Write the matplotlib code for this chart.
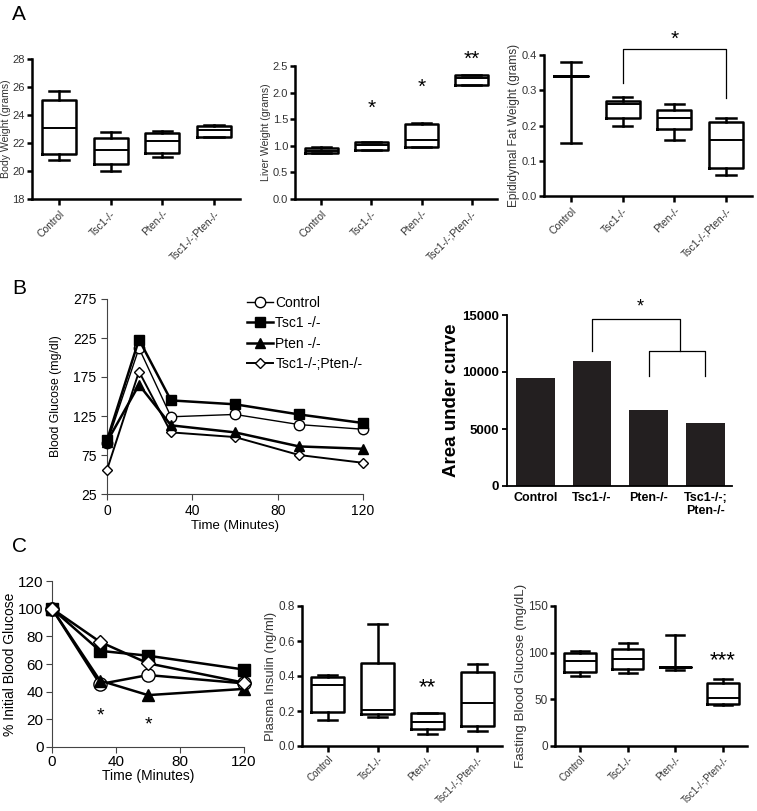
import matplotlib
matplotlib.use('Agg')
import matplotlib.pyplot as plt

plt.rcParams['font.family'] = ['Liberation Sans', 'DejaVu Sans']

groups = ['Control', 'Tsc1-/-', 'Pten-/-', 'Tsc1-/-;Pten-/-']

# box stats: (whislo, q1, med, q3, whishi)
body_weight = [(20.8, 21.25, 23.05, 25.1, 25.7),
               (20.0, 20.5, 21.5, 22.35, 22.8),
               (21.0, 21.3, 22.15, 22.75, 22.85),
               (22.4, 22.45, 22.9, 23.25, 23.3)]
liver_weight = [(0.86, 0.87, 0.90, 0.95, 0.97),
                (0.92, 0.93, 1.02, 1.08, 1.08),
                (0.97, 0.98, 1.10, 1.41, 1.42),
                (2.14, 2.15, 2.28, 2.34, 2.34)]
fat_weight = [(0.15, 0.34, 0.34, 0.34, 0.38),
              (0.20, 0.22, 0.26, 0.27, 0.28),
              (0.16, 0.19, 0.22, 0.245, 0.26),
              (0.06, 0.08, 0.16, 0.21, 0.22)]
insulin = [(0.15, 0.195, 0.347, 0.395, 0.405),
           (0.163, 0.182, 0.206, 0.472, 0.70),
           (0.07, 0.10, 0.14, 0.19, 0.19),
           (0.084, 0.112, 0.247, 0.425, 0.468)]
fasting = [(75, 79, 91, 100, 102),
           (78, 82, 93, 104, 110),
           (81, 85, 85, 85, 119),
           (44, 45, 51.5, 68, 72)]

# GTT (panel B)
gtt_time = [0, 15, 30, 60, 90, 120]
gtt_control = [90, 212, 124, 127, 114, 108]
gtt_tsc1 = [94, 223, 145, 140, 127, 116]
gtt_pten = [92, 165, 113, 104, 86, 83]
gtt_double = [56, 182, 104, 98, 75, 65]
auc = [9500, 11000, 6650, 5550]
auc_labels = ['Control', 'Tsc1-/-', 'Pten-/-', 'Tsc1-/-;\nPten-/-']

# ITT (panel C)
itt_time = [0, 30, 60, 120]
itt_control = [100, 45.5, 52, 46]
itt_tsc1 = [100, 69.5, 66, 56]
itt_pten = [100, 48, 37.5, 42]
itt_double = [100, 76, 60.5, 46.5]

W, H = 757, 811
fig = plt.figure(figsize=(W / 100, H / 100), dpi=100)


def add_ax(left, right, top, bottom):
    return fig.add_axes([left / W, 1 - bottom / H, (right - left) / W, (bottom - top) / H])


def prism_box(ax, data, ylim, yticks, ylabel, fmt=None, tick_fs=8, xlab_fs=7.5, ylab_fs=7.6, xpad=3):
    stats = [dict(whislo=d[0], q1=d[1], med=d[2], q3=d[3], whishi=d[4]) for d in data]
    pos = [1, 2, 3, 4]
    ax.bxp(stats, positions=pos, widths=0.66, capwidths=0.38, showfliers=False,
           boxprops=dict(lw=1.8), whiskerprops=dict(lw=1.8), capprops=dict(lw=1.8),
           medianprops=dict(color='black', lw=1.4))
    ax.set_xlim(0.48, 4.5)
    ax.set_ylim(*ylim)
    ax.set_yticks(yticks)
    if fmt:
        ax.set_yticklabels([fmt % v for v in yticks])
    ax.set_xticks(pos)
    ax.set_xticklabels(groups, rotation=45, ha='right', rotation_mode='anchor',
                       fontsize=xlab_fs, color='#333')
    ax.tick_params(axis='y', labelsize=tick_fs, labelcolor='#333', width=1.8, length=3.5, pad=1.5)
    ax.tick_params(axis='x', width=1.8, length=4, pad=xpad)
    for s in ['top', 'right']:
        ax.spines[s].set_visible(False)
    for s in ['left', 'bottom']:
        ax.spines[s].set_linewidth(1.8)
    ax.set_ylabel(ylabel, fontsize=ylab_fs, color='#333', labelpad=1)


# ---- panel A ----
ax1 = add_ax(32, 240, 59, 199)
prism_box(ax1, body_weight, (18, 28), [18, 20, 22, 24, 26, 28], 'Body Weight (grams)')

ax2 = add_ax(295, 497, 66, 199)
prism_box(ax2, liver_weight, (0, 2.5), [0, 0.5, 1.0, 1.5, 2.0, 2.5], 'Liver Weight (grams)', '%.1f')
ax2.text(2, 1.6, '*', ha='center', fontsize=15)
ax2.text(3, 2.0, '*', ha='center', fontsize=15)
ax2.text(4, 2.53, '**', ha='center', fontsize=15)

ax3 = add_ax(544, 752, 55, 196)
prism_box(ax3, fat_weight, (0, 0.4), [0, 0.1, 0.2, 0.3, 0.4], 'Epididymal Fat Weight (grams)', '%.1f',
          ylab_fs=8.6)
ax3.plot([2, 2, 4, 4], [0.32, 0.417, 0.417, 0.278], color='black', lw=0.9, clip_on=False)
ax3.text(3, 0.43, '*', ha='center', fontsize=15)

# ---- panel B line ----
axb = add_ax(107, 363, 299, 494)
axb.plot(gtt_time, gtt_control, '-o', color='black', lw=1.0, mfc='white', mec='black', ms=7.5,
         label='Control', clip_on=False, zorder=3)
axb.plot(gtt_time, gtt_tsc1, '-s', color='black', lw=1.8, ms=6.5, label='Tsc1 -/-', clip_on=False, zorder=4)
axb.plot(gtt_time, gtt_pten, '-^', color='black', lw=1.8, ms=6.5, label='Pten -/-', clip_on=False, zorder=4)
axb.plot(gtt_time, gtt_double, '-D', color='black', lw=1.4, mfc='white', mec='black', ms=5.5,
         label='Tsc1-/-;Pten-/-', clip_on=False, zorder=3)
axb.set_xlim(0, 120)
axb.set_ylim(25, 275)
axb.set_xticks([0, 40, 80, 120])
axb.set_yticks([25, 75, 125, 175, 225, 275])
axb.tick_params(labelsize=10, width=0.8, length=4, color='#444')
for s in ['top', 'right']:
    axb.spines[s].set_visible(False)
for s in ['left', 'bottom']:
    axb.spines[s].set_linewidth(0.8)
    axb.spines[s].set_color('#444')
axb.set_xlabel('Time (Minutes)', fontsize=9.5, labelpad=1)
axb.set_ylabel('Blood Glucose (mg/dl)', fontsize=8.8, labelpad=8)
axb.legend(loc='upper left', bbox_to_anchor=(247 / W, 1 - 296 / H), bbox_transform=fig.transFigure,
           frameon=False, fontsize=10, handlelength=1.9, handletextpad=0.15, borderpad=0,
           borderaxespad=0, labelspacing=0.45)

# ---- panel B bar ----
axa = add_ax(507, 732, 315, 486)
axa.bar([1, 2, 3, 4], auc, width=0.68, color='#231f20')
axa.set_xlim(0.5, 4.47)
axa.set_ylim(0, 15000)
axa.set_yticks([0, 5000, 10000, 15000])
axa.set_xticks([1, 2, 3, 4])
axa.set_xticklabels(auc_labels, fontsize=9, fontweight='bold')
axa.tick_params(axis='y', labelsize=9.5, width=1.3, length=3.5, pad=2)
axa.tick_params(axis='x', length=0, pad=4)
for lab in axa.get_yticklabels():
    lab.set_fontweight('bold')
for s in ['top', 'right']:
    axa.spines[s].set_visible(False)
for s in ['left', 'bottom']:
    axa.spines[s].set_linewidth(1.3)
axa.set_ylabel('Area under curve', fontsize=13.5, fontweight='bold', labelpad=2)
axa.plot([2, 2, 3.55, 3.55], [11870, 14620, 14620, 11870], color='black', lw=0.9, clip_on=False)
axa.plot([3, 3, 4, 4], [9675, 11870, 11870, 9675], color='black', lw=0.9, clip_on=False)
axa.text(2.85, 15300, '*', ha='center', fontsize=13)

# ---- panel C line ----
axc = add_ax(52, 244, 581, 747)
axc.plot(itt_time, itt_control, '-o', color='black', lw=1.8, mfc='white', mec='black', ms=9.5,
         clip_on=False, zorder=3)
axc.plot(itt_time, itt_tsc1, '-s', color='black', lw=1.8, ms=9, clip_on=False, zorder=4)
axc.plot(itt_time, itt_pten, '-^', color='black', lw=1.8, ms=9, clip_on=False, zorder=4)
axc.plot(itt_time, itt_double, '-D', color='black', lw=1.8, mfc='white', mec='black', ms=7,
         clip_on=False, zorder=5)
axc.set_xlim(0, 120)
axc.set_ylim(0, 120)
axc.set_xticks([0, 40, 80, 120])
axc.set_yticks([0, 20, 40, 60, 80, 100, 120])
axc.tick_params(labelsize=11, width=0.8, length=4, color='#444', pad=2)
for s in ['top', 'right']:
    axc.spines[s].set_visible(False)
for s in ['left', 'bottom']:
    axc.spines[s].set_linewidth(0.8)
    axc.spines[s].set_color('#444')
axc.set_xlabel('Time (Minutes)', fontsize=10, labelpad=0)
axc.set_ylabel('% Initial Blood Glucose', fontsize=10, labelpad=1)
axc.text(30, 19, '*', ha='center', fontsize=14)
axc.text(60, 13, '*', ha='center', fontsize=14)

# ---- panel C boxes ----
axi = add_ax(302, 502, 606, 746)
prism_box(axi, insulin, (0, 0.8), [0, 0.2, 0.4, 0.6, 0.8], 'Plasma Insulin (ng/ml)', '%.1f',
          tick_fs=8.5, xlab_fs=7.1, ylab_fs=9.4, xpad=2)
axi.text(3, 0.3, '**', ha='center', fontsize=16)

axf = add_ax(555, 747, 606, 746)
prism_box(axf, fasting, (0, 150), [0, 50, 100, 150], 'Fasting Blood Glucose (mg/dL)',
          tick_fs=8.5, xlab_fs=7.1, ylab_fs=9.6, xpad=2)
axf.text(4, 85, '***', ha='center', fontsize=16)

# panel letters
fig.text(12 / W, 1 - 14 / H, 'A', fontsize=15, ha='left', va='center')
fig.text(12 / W, 1 - 289 / H, 'B', fontsize=15, ha='left', va='center')
fig.text(12 / W, 1 - 546 / H, 'C', fontsize=15, ha='left', va='center')

plt.savefig('out.png', dpi=100)
plt.close()
